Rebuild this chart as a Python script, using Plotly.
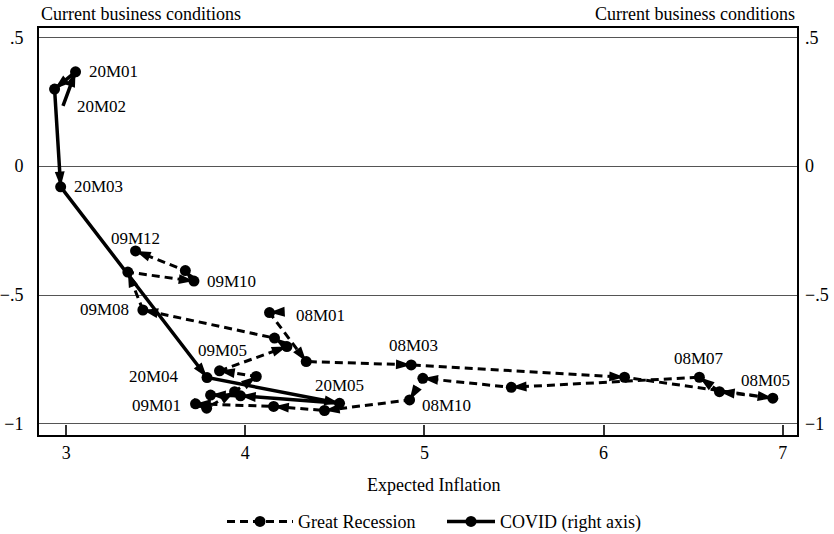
import plotly.graph_objects as go

# ---- data ----
gr_months = ["07M12", "08M01", "08M02", "08M03", "08M04", "08M05", "08M06", "08M07",
             "08M08", "08M09", "08M10", "08M11", "08M12", "09M01", "09M02", "09M03",
             "09M04", "09M05", "09M06", "09M07", "09M08", "09M09", "09M10", "09M11", "09M12"]
gr_infl = [4.214, 4.135, 4.340, 4.926, 6.117, 6.945, 6.647, 6.535,
           5.485, 4.991, 4.917, 4.442, 4.158, 3.722, 3.784, 3.940,
           4.061, 3.856, 4.232, 4.163, 3.428, 3.344, 3.713, 3.665, 3.387]
gr_cond = [-0.565, -0.568, -0.758, -0.771, -0.819, -0.900, -0.875, -0.819,
           -0.858, -0.823, -0.907, -0.948, -0.932, -0.922, -0.939, -0.875,
           -0.816, -0.794, -0.700, -0.667, -0.558, -0.411, -0.446, -0.405, -0.329]
gr_labeled = ["08M01", "08M03", "08M05", "08M07", "08M10", "09M01", "09M05",
              "09M08", "09M10", "09M12"]

covid_months = ["19M12", "20M01", "20M02", "20M03", "20M04", "20M05", "20M06", "20M07"]
covid_infl = [2.982, 3.052, 2.935, 2.969, 3.786, 4.526, 3.973, 3.806]
covid_cond = [0.234, 0.366, 0.299, -0.080, -0.820, -0.920, -0.891, -0.888]
covid_labeled = ["20M01", "20M02", "20M03", "20M04", "20M05"]

x_ticks = [3, 4, 5, 6, 7]
y_ticks = [0.5, 0, -0.5, -1]
y_ticktext = [".5", "0", "\u2212.5", "\u22121"]

# ---- label placement (style): anchor, x shift px, y shift px (up positive) ----
label_style = {
    "20M01": ("left", 11, 0), "20M02": ("left", 20, -17), "20M03": ("left", 11, 0),
    "20M04": ("right", -26, 1), "20M05": ("center", 0, 18),
    "09M12": ("center", 0, 12), "09M10": ("left", 11, 0), "09M08": ("right", -12, 0),
    "08M01": ("left", 24, -3), "09M05": ("center", 3, 20), "09M01": ("right", -13, -2),
    "08M03": ("center", 2, 19), "08M10": ("left", 10, -6), "08M07": ("center", 0, 19),
    "08M05": ("center", -7, 18),
}

FONT = "Liberation Serif"
FS = 17
FS_TITLE = 18

fig = go.Figure()

def add_series(xs, ys, name, dash, yaxis, width, legend):
    sizes = [0] + [11] * (len(xs) - 1)
    fig.add_trace(go.Scatter(
        x=xs, y=ys, mode="lines", showlegend=False,
        line=dict(color="black", width=width, dash=dash),
        hoverinfo="skip", yaxis=yaxis))
    fig.add_trace(go.Scatter(
        x=xs, y=ys, mode="markers", showlegend=False,
        marker=dict(symbol="arrow", angleref="previous", size=16, color="black",
                    line=dict(width=0), opacity=1),
        hoverinfo="skip", yaxis=yaxis))
    fig.add_trace(go.Scatter(
        x=xs, y=ys, mode="markers", showlegend=False,
        marker=dict(symbol="circle", size=sizes, color="black",
                    line=dict(width=0), opacity=1),
        hoverinfo="skip", yaxis=yaxis))
    # legend entry
    fig.add_trace(go.Scatter(
        x=[None], y=[None], mode="lines+markers", name=name, legend=legend,
        line=dict(color="black", width=width, dash=dash),
        marker=dict(symbol="circle", size=11, color="black", line=dict(width=0)),
        yaxis=yaxis))

add_series(gr_infl, gr_cond, "Great Recession", "8px,5px", "y", 3, "legend")
add_series(covid_infl, covid_cond, "COVID (right axis)", "solid", "y2", 3.5, "legend2")

annotations = []
for months, xs, ys, labeled in [(gr_months, gr_infl, gr_cond, gr_labeled),
                                (covid_months, covid_infl, covid_cond, covid_labeled)]:
    for m, xv, yv in zip(months, xs, ys):
        if m in labeled:
            anchor, dx, dy = label_style[m]
            annotations.append(dict(
                text=m, x=xv, y=yv, xref="x", yref="y", showarrow=False,
                xanchor=anchor, yanchor="middle", xshift=dx, yshift=dy,
                font=dict(family=FONT, size=FS, color="black")))

annotations += [
    dict(text="Current business conditions", xref="paper", yref="paper",
         x=0, y=1.035, xanchor="left", yanchor="middle", showarrow=False,
         font=dict(family=FONT, size=FS_TITLE)),
    dict(text="Current business conditions", xref="paper", yref="paper",
         x=1, y=1.035, xanchor="right", yanchor="middle", showarrow=False,
         font=dict(family=FONT, size=FS_TITLE)),
    dict(text="Expected Inflation", xref="paper", yref="paper",
         x=0.5206, y=-0.1229, xanchor="center", yanchor="middle", showarrow=False,
         font=dict(family=FONT, size=FS_TITLE)),
]

yrange = [-1.043, 0.536]
legend_common = dict(orientation="h", xanchor="left", y=-0.213, yanchor="middle",
                     font=dict(family=FONT, size=FS_TITLE), bgcolor="rgba(0,0,0,0)")
fig.update_layout(
    width=834, height=534,
    margin=dict(l=39, r=37, t=28, b=99, autoexpand=False),
    paper_bgcolor="white", plot_bgcolor="white",
    font=dict(family=FONT, size=FS, color="black"),
    xaxis=dict(range=[2.848, 7.08], tickvals=x_ticks, ticks="inside", ticklen=10,
               tickwidth=1.5, tickcolor="#333", showgrid=False, zeroline=False,
               showline=True, mirror=True, linecolor="black", linewidth=2,
               tickfont=dict(family=FONT, size=FS_TITLE), ticklabelstandoff=0,
               automargin=False),
    yaxis=dict(range=yrange, tickvals=y_ticks, ticktext=y_ticktext, ticks="",
               showgrid=True, gridcolor="#555", gridwidth=1, zeroline=False,
               showline=True, mirror=True, linecolor="black", linewidth=2,
               tickfont=dict(family=FONT, size=FS_TITLE), ticklabelstandoff=10,
               automargin=False),
    yaxis2=dict(range=yrange, tickvals=y_ticks, ticktext=y_ticktext, ticks="",
                overlaying="y", side="right", showgrid=False, zeroline=False,
                showline=False, tickfont=dict(family=FONT, size=FS_TITLE),
                ticklabelstandoff=7, automargin=False),
    showlegend=True,
    legend=dict(x=(222 - 39) / 758, itemwidth=66, **legend_common),
    legend2=dict(x=(442 - 39) / 758, itemwidth=48, **legend_common),
    annotations=annotations,
)

fig.write_html("out.html",
               config={"displayModeBar": False},
               post_script="document.body.style.margin='0px';"
                           "document.body.style.overflow='hidden';")
